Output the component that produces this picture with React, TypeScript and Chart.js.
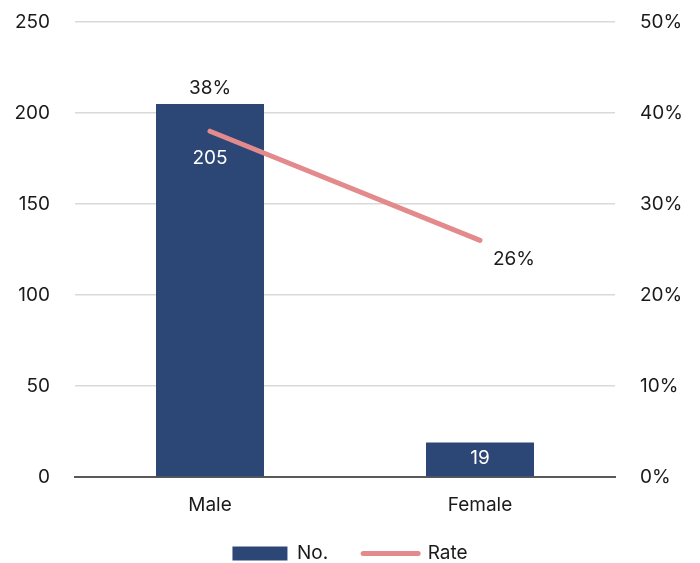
import React, { useEffect, useRef } from "react";
import { Chart, registerables } from "chart.js";

Chart.register(...registerables);

const categories = ["Male", "Female"];
const counts = [205, 19];
const rates = [38, 26];
const countTicks = [0, 50, 100, 150, 200, 250];
const rateTicks = [0, 10, 20, 30, 40, 50];
const seriesNames = ["No.", "Rate"];

const NAVY = "#2C4675";
const PINK = "#E38B8C";
const FONT = "Inter";
const FS = 19;

const labelPlugin = {
  id: "valueLabels",
  afterDatasetsDraw(chart: any) {
    const ctx = chart.ctx;
    ctx.save();
    ctx.font = `${FS}px ${FONT}`;
    ctx.textAlign = "center";
    ctx.textBaseline = "middle";
    const barMeta = chart.getDatasetMeta(0);
    barMeta.data.forEach((el: any, i: number) => {
      ctx.fillStyle = "#ffffff";
      const dy = i === 0 ? 54 : 16;
      ctx.fillText(String(counts[i]), el.x, el.y + dy);
    });
    const lineMeta = chart.getDatasetMeta(1);
    lineMeta.data.forEach((el: any, i: number) => {
      ctx.fillStyle = "#1a1a1a";
      if (i === 0) ctx.fillText(rates[i] + "%", el.x, el.y - 43);
      else ctx.fillText(rates[i] + "%", el.x + 34, el.y + 19);
    });
    ctx.restore();
  },
};

const legendShift = {
  id: "legendShift",
  afterLayout(chart: any) {
    const lg = chart.legend;
    if (lg) {
      lg.top -= 10;
      lg.bottom -= 10;
    }
  },
};

const fitVertical = (w: number) => (s: any) => {
  s.width = w;
  s.paddingTop = 0;
  s.paddingBottom = 0;
};

export default function App() {
  const ref = useRef<HTMLCanvasElement>(null);
  useEffect(() => {
    if (!ref.current) return;
    const chart = new Chart(ref.current, {
      type: "bar",
      data: {
        labels: categories,
        datasets: [
          {
            type: "bar",
            label: seriesNames[0],
            data: counts,
            backgroundColor: NAVY,
            yAxisID: "y",
            categoryPercentage: 0.4,
            barPercentage: 1,
            order: 2,
          },
          {
            type: "line",
            label: seriesNames[1],
            data: rates,
            borderColor: PINK,
            backgroundColor: PINK,
            borderWidth: 5,
            borderCapStyle: "round",
            pointRadius: 0,
            yAxisID: "y1",
            order: 1,
          },
        ] as any,
      },
      options: {
        responsive: false,
        animation: false,
        layout: { padding: { top: 22, bottom: -20, left: 0, right: 0 } },
        plugins: {
          tooltip: { enabled: false },
          legend: {
            position: "bottom",
            labels: {
              usePointStyle: true,
              pointStyleWidth: 55,
              boxHeight: 14,
              padding: 35,
              color: "#1a1a1a",
              font: { family: FONT, size: FS },
              generateLabels: () => [
                {
                  text: seriesNames[0],
                  fillStyle: NAVY,
                  strokeStyle: NAVY,
                  lineWidth: 0,
                  pointStyle: "rect",
                  datasetIndex: 0,
                  fontColor: "#1a1a1a",
                } as any,
                {
                  text: seriesNames[1],
                  fillStyle: PINK,
                  strokeStyle: PINK,
                  lineWidth: 5,
                  lineCap: "round",
                  pointStyle: "line",
                  datasetIndex: 1,
                  fontColor: "#1a1a1a",
                } as any,
              ],
            },
          },
        },
        scales: {
          x: {
            grid: { display: false },
            border: { display: true, color: "#595959", width: 2 },
            ticks: { color: "#1a1a1a", font: { family: FONT, size: FS }, padding: 9 },
            afterFit: (s: any) => {
              s.height = 42;
            },
          },
          y: {
            position: "left",
            min: countTicks[0],
            max: countTicks[countTicks.length - 1],
            afterBuildTicks: (s: any) => {
              s.ticks = countTicks.map((v) => ({ value: v }));
            },
            afterFit: fitVertical(75),
            grid: { color: "#D9D9D9", lineWidth: 1.5, drawTicks: false },
            border: { display: false },
            ticks: { color: "#1a1a1a", font: { family: FONT, size: FS }, padding: 25 },
          },
          y1: {
            position: "right",
            min: rateTicks[0],
            max: rateTicks[rateTicks.length - 1],
            afterBuildTicks: (s: any) => {
              s.ticks = rateTicks.map((v) => ({ value: v }));
            },
            afterFit: fitVertical(85),
            grid: { drawOnChartArea: false, drawTicks: false },
            border: { display: false },
            ticks: {
              color: "#1a1a1a",
              font: { family: FONT, size: FS },
              padding: 25,
              callback: (v: any) => v + "%",
            },
          },
        },
      },
      plugins: [labelPlugin, legendShift],
    });
    return () => chart.destroy();
  }, []);
  return (
    <div style={{ position: "absolute", left: 0, top: 0, width: 700, height: 563, background: "#fff" }}>
      <canvas ref={ref} width={700} height={563} />
    </div>
  );
}
